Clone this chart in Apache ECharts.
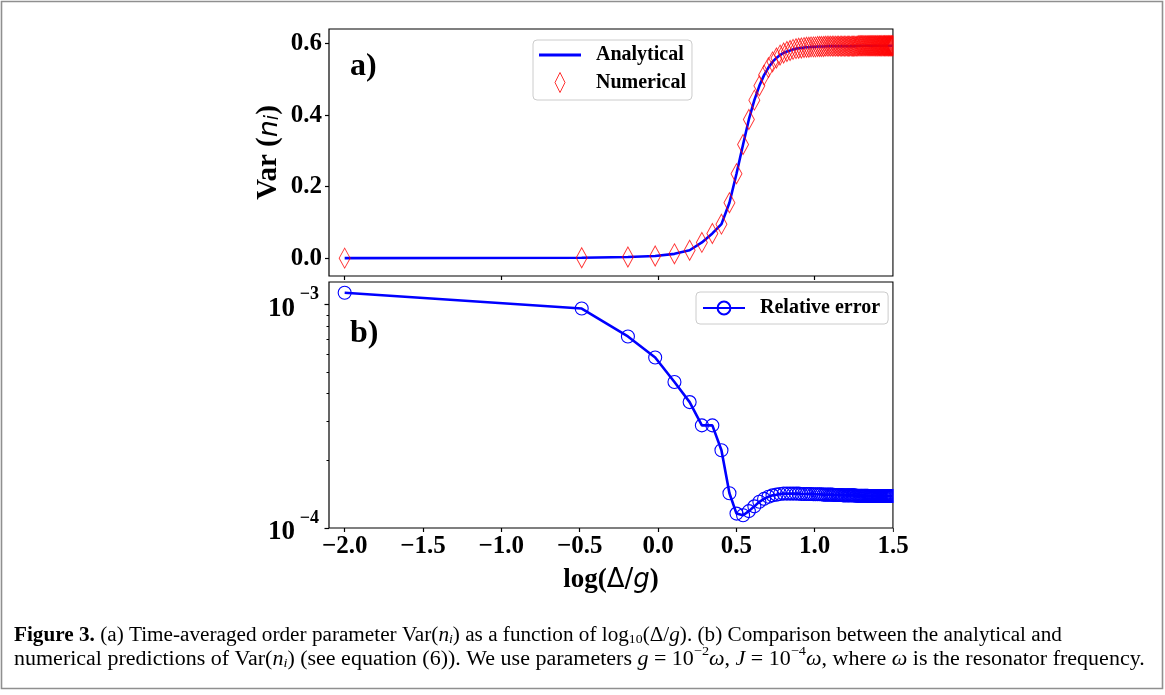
<!DOCTYPE html>
<html><head><meta charset="utf-8">
<script src="https://cdn.jsdelivr.net/npm/echarts@6/dist/echarts.min.js"></script>
<style>html,body{margin:0;padding:0;background:#fff}#c{width:1165px;height:695px}</style>
</head><body><div id="c"></div>
<script>
// log10(Delta/g) sample positions
const xValues = [
  -2.000,-0.487,-0.192,-0.018,0.105,0.202,0.280,0.347,0.405,0.456,
  0.501,0.543,0.580,0.615,0.647,0.677,0.705,0.731,0.756,0.779,
  0.802,0.823,0.843,0.862,0.881,0.898,0.915,0.932,0.948,0.963,
  0.977,0.992,1.005,1.019,1.032,1.044,1.057,1.068,1.080,1.091,
  1.102,1.113,1.123,1.134,1.144,1.153,1.163,1.172,1.181,1.190,
  1.199,1.208,1.216,1.224,1.233,1.241,1.248,1.256,1.264,1.271,
  1.278,1.285,1.293,1.299,1.306,1.313,1.320,1.326,1.333,1.339,
  1.345,1.351,1.357,1.363,1.369,1.375,1.381,1.387,1.392,1.398,
  1.403,1.409,1.414,1.419,1.424,1.429,1.435,1.440,1.445,1.449,
  1.454,1.459,1.464,1.469,1.473,1.478,1.482,1.487,1.491,1.496,1.500
];
const analytical = [
  0.000,0.001,0.003,0.006,0.012,0.022,0.044,0.069,0.095,0.155,
  0.236,0.318,0.388,0.442,0.482,0.512,0.533,0.549,0.560,0.568,
  0.574,0.578,0.581,0.584,0.586,0.587,0.588,0.589,0.590,0.590,
  0.591,0.591,0.591,0.592,0.592,0.592,0.592,0.593,0.593,0.593,
  0.593,0.593,0.593,0.593,0.593,0.593,0.593,0.593,0.593,0.593,
  0.593,0.593,0.593,0.593,0.593,0.593,0.593,0.593,0.593,0.593,
  0.594,0.594,0.594,0.594,0.594,0.594,0.594,0.594,0.594,0.594,
  0.594,0.594,0.594,0.594,0.594,0.594,0.594,0.594,0.594,0.594,
  0.594,0.594,0.594,0.594,0.594,0.594,0.594,0.594,0.594,0.594,
  0.594,0.594,0.594,0.594,0.594,0.594,0.594,0.594,0.594,0.594,0.594
];
const numerical = [
  0.000,0.001,0.003,0.006,0.012,0.022,0.044,0.069,0.095,0.155,
  0.236,0.318,0.388,0.442,0.482,0.512,0.533,0.549,0.560,0.568,
  0.574,0.578,0.581,0.584,0.586,0.587,0.588,0.589,0.590,0.590,
  0.591,0.591,0.591,0.592,0.592,0.592,0.592,0.593,0.593,0.593,
  0.593,0.593,0.593,0.593,0.593,0.593,0.593,0.593,0.593,0.593,
  0.593,0.593,0.593,0.593,0.593,0.593,0.593,0.593,0.593,0.593,
  0.594,0.594,0.594,0.594,0.594,0.594,0.594,0.594,0.594,0.594,
  0.594,0.594,0.594,0.594,0.594,0.594,0.594,0.594,0.594,0.594,
  0.594,0.594,0.594,0.594,0.594,0.594,0.594,0.594,0.594,0.594,
  0.594,0.594,0.594,0.594,0.594,0.594,0.594,0.594,0.594,0.594,0.594
];
const relativeError = [
  1.13e-3,9.6e-4,7.2e-4,5.8e-4,4.5e-4,3.66e-4,2.88e-4,2.88e-4,2.23e-4,1.43e-4,
  1.16e-4,1.14e-4,1.19e-4,1.25e-4,1.31e-4,1.35e-4,1.38e-4,1.40e-4,1.41e-4,1.42e-4,
  1.425e-4,1.425e-4,1.425e-4,1.425e-4,1.425e-4,1.425e-4,1.42e-4,1.42e-4,1.42e-4,1.42e-4,
  1.42e-4,1.415e-4,1.415e-4,1.415e-4,1.415e-4,1.415e-4,1.41e-4,1.41e-4,1.41e-4,1.41e-4,
  1.41e-4,1.41e-4,1.405e-4,1.405e-4,1.405e-4,1.405e-4,1.405e-4,1.405e-4,1.40e-4,1.40e-4,
  1.40e-4,1.40e-4,1.40e-4,1.40e-4,1.40e-4,1.40e-4,1.40e-4,1.40e-4,1.395e-4,1.395e-4,
  1.395e-4,1.395e-4,1.395e-4,1.395e-4,1.395e-4,1.395e-4,1.395e-4,1.395e-4,1.395e-4,1.395e-4,
  1.39e-4,1.39e-4,1.39e-4,1.39e-4,1.39e-4,1.39e-4,1.39e-4,1.39e-4,1.39e-4,1.39e-4,
  1.39e-4,1.39e-4,1.39e-4,1.39e-4,1.39e-4,1.39e-4,1.39e-4,1.39e-4,1.39e-4,1.39e-4,
  1.39e-4,1.39e-4,1.39e-4,1.39e-4,1.39e-4,1.39e-4,1.39e-4,1.39e-4,1.39e-4,1.39e-4,1.39e-4
];
const topXTicks = [-2, -1, 0, 1];
const bottomXTicks = [-2, -1.5, -1, -0.5, 0, 0.5, 1, 1.5];
const topYTicks = [0, 0.2, 0.4, 0.6];
const logMajorTicks = [1e-4, 1e-3];
const logMinorTicks = [2e-4, 3e-4, 4e-4, 5e-4, 6e-4, 7e-4, 8e-4, 9e-4];

const zip = (xs, ys) => xs.map((x, i) => [x, ys[i]]);
const serif = '"Liberation Serif","Times New Roman",serif';
const sans = '"DejaVu Sans",sans-serif';
const tickStyle = { color: '#000', width: 1.2 };
const noLine = { show: false, onZero: false };
const chart = echarts.init(document.getElementById('c'), null, { renderer: 'canvas' });

const capR = { fontFamily: serif, fontSize: 20, color: '#231f20', lineHeight: 22, verticalAlign: 'bottom' };
const captionRich = {
  fb: Object.assign({}, capR, { fontWeight: 'bold' }),
  r: capR,
  it: Object.assign({}, capR, { fontStyle: 'italic' }),
  sub: Object.assign({}, capR, { fontSize: 13, lineHeight: 12, padding: [11, 0, 0, 0] }),
  subi: Object.assign({}, capR, { fontSize: 13, lineHeight: 12, padding: [11, 0, 0, 0], fontStyle: 'italic' }),
  sup: Object.assign({}, capR, { fontSize: 13, lineHeight: 12, padding: [0, 0, 12, 0] }),
  lk: Object.assign({}, capR, { color: '#1d7ab8' })
};

const option = {
  animation: false,
  backgroundColor: '#fff',
  grid: [
    { left: 329, top: 29, width: 564, height: 247, show: true, borderColor: '#000', borderWidth: 1.2 },
    { left: 329, top: 282, width: 564, height: 246, show: true, borderColor: '#000', borderWidth: 1.2 }
  ],
  xAxis: [
    {
      gridIndex: 0, type: 'value', min: -2.1, max: 1.5, position: 'bottom',
      axisLine: noLine, splitLine: { show: false },
      axisTick: { show: true, length: 4, lineStyle: tickStyle, customValues: topXTicks },
      axisLabel: { show: false }
    },
    {
      gridIndex: 1, type: 'value', min: -2.1, max: 1.5, position: 'bottom',
      axisLine: noLine, splitLine: { show: false },
      axisTick: { show: true, length: 4, lineStyle: tickStyle, customValues: bottomXTicks },
      axisLabel: {
        customValues: bottomXTicks, margin: 6,
        fontFamily: serif, fontWeight: 'bold', fontSize: 25, color: '#000',
        formatter: v => v.toFixed(1).replace('-', '\u2212')
      },
      name: '{b|log(}{m|\u0394/}{i|g}{b|)}', nameLocation: 'middle', nameGap: 39,
      nameTextStyle: {
        rich: {
          b: { fontFamily: serif, fontWeight: 'bold', fontSize: 27, color: '#000' },
          m: { fontFamily: sans, fontSize: 26, color: '#000' },
          i: { fontFamily: sans, fontStyle: 'italic', fontSize: 26, color: '#000' }
        }
      }
    }
  ],
  yAxis: [
    {
      gridIndex: 0, type: 'value', min: -0.05, max: 0.641, position: 'left',
      axisLine: noLine, splitLine: { show: false },
      axisTick: { show: true, length: 4, lineStyle: tickStyle, customValues: topYTicks },
      axisLabel: {
        customValues: topYTicks, margin: 7,
        fontFamily: serif, fontWeight: 'bold', fontSize: 25, color: '#000',
        formatter: v => v.toFixed(1)
      },
      name: '{b|Var (}{i|n}{s|i}{b|)}', nameLocation: 'middle', nameGap: 46, nameRotate: 90,
      nameTextStyle: {
        rich: {
          b: { fontFamily: serif, fontWeight: 'bold', fontSize: 29, color: '#000', lineHeight: 30, verticalAlign: 'bottom' },
          i: { fontFamily: sans, fontStyle: 'italic', fontSize: 27, color: '#000', lineHeight: 30, verticalAlign: 'bottom' },
          s: { fontFamily: sans, fontStyle: 'italic', fontSize: 19, color: '#000', lineHeight: 19, padding: [14, 0, 0, 0], verticalAlign: 'bottom' }
        }
      }
    },
    {
      gridIndex: 1, type: 'log', logBase: 10, min: 1e-4, max: 1.262e-3, position: 'left', offset: 0,
      axisLine: noLine, splitLine: { show: false },
      axisTick: { show: true, length: 4.5, lineStyle: tickStyle, customValues: logMajorTicks },
      axisLabel: {
        customValues: logMajorTicks, margin: 10, align: 'right',
        formatter: v => '{s|\u2212' + Math.round(-Math.log10(v)) + '}\n{b|10}',
        rich: {
          s: { fontFamily: serif, fontWeight: 'bold', fontSize: 18, color: '#000', lineHeight: 9, align: 'right' },
          b: { fontFamily: serif, fontWeight: 'bold', fontSize: 27, color: '#000', lineHeight: 20, align: 'right', padding: [0, 24, 0, 0] }
        }
      }
    },
    {
      gridIndex: 1, type: 'log', logBase: 10, min: 1e-4, max: 1.262e-3, position: 'left', offset: 0,
      axisLine: noLine, splitLine: { show: false },
      axisTick: { show: true, length: 2.5, lineStyle: { color: '#000', width: 1 }, customValues: logMinorTicks },
      axisLabel: { show: false }
    }
  ],
  legend: [
    {
      data: [
        { name: 'Analytical', icon: 'path://M0,0H42V3H0Z', itemStyle: { color: '#0000ff', borderWidth: 0 } },
        { name: 'Numerical', icon: 'path://M5,0L10,10L5,20L0,10Z',
          itemStyle: { color: 'rgba(0,0,0,0)', borderColor: '#ff0000', borderWidth: 1 } }
      ],
      orient: 'vertical', left: 533, top: 40, itemWidth: 42, itemHeight: 20, itemGap: 7,
      padding: [5, 6, 7, 6], backgroundColor: 'rgba(255,255,255,0.8)', borderColor: '#cccccc',
      borderWidth: 1, borderRadius: 4, selectedMode: false,
      textStyle: { fontFamily: serif, fontWeight: 'bold', fontSize: 20, color: '#000', padding: [0, 0, 0, 10] }
    },
    {
      data: [{ name: 'Relative error' }],
      left: 696, top: 292, itemWidth: 42, itemHeight: 16,
      padding: [6, 8, 6, 6], backgroundColor: 'rgba(255,255,255,0.8)', borderColor: '#cccccc',
      borderWidth: 1, borderRadius: 4, selectedMode: false,
      textStyle: { fontFamily: serif, fontWeight: 'bold', fontSize: 20, color: '#000', padding: [0, 0, 0, 10] }
    }
  ],
  series: [
    {
      name: 'Analytical', type: 'line', xAxisIndex: 0, yAxisIndex: 0,
      data: zip(xValues, analytical), symbol: 'none',
      lineStyle: { color: '#0000ff', width: 2.6 }, itemStyle: { color: '#0000ff' }, z: 2
    },
    {
      name: 'Numerical', type: 'scatter', xAxisIndex: 0, yAxisIndex: 0,
      data: zip(xValues, numerical), symbol: 'diamond', symbolSize: [11, 20],
      itemStyle: { color: 'rgba(0,0,0,0)', borderColor: '#ff0000', borderWidth: 1 }, z: 3
    },
    {
      name: 'Relative error', type: 'line', xAxisIndex: 1, yAxisIndex: 1,
      data: zip(xValues, relativeError), symbol: 'circle', symbolSize: 13, showAllSymbol: true,
      lineStyle: { color: '#0000ff', width: 2.6 },
      itemStyle: { color: 'rgba(0,0,0,0)', borderColor: '#0000ff', borderWidth: 1.1 }, z: 2
    }
  ],
  graphic: [
    // white mask so markers are cut at the right spine, as in the original
    { type: 'rect', silent: true, z: 50, shape: { x: 893.8, y: 20, width: 20, height: 515 },
      style: { fill: '#fff' } },
    { type: 'rect', silent: true, z: 51, shape: { x: 1.5, y: 1.5, width: 1161, height: 687 },
      style: { fill: 'none', stroke: '#8f8f8f', lineWidth: 1.6 } },
    { type: 'text', x: 350, y: 67, silent: true,
      style: { text: 'a)', font: 'bold 32px "Liberation Serif"', fill: '#000', verticalAlign: 'middle' } },
    { type: 'text', x: 350, y: 334, silent: true,
      style: { text: 'b)', font: 'bold 32px "Liberation Serif"', fill: '#000', verticalAlign: 'middle' } },
    { type: 'text', x: 14, y: 635, scaleX: 1.06, silent: true,
      style: {
        text: '{fb|Figure 3.}{r| (a) Time-averaged order parameter Var(}{it|n}{subi|i}{r|) as a function of log}{sub|10}{r|(\u0394/}{it|g}{r|). (b) Comparison between the analytical and}',
        rich: captionRich, verticalAlign: 'middle'
      } },
    { type: 'text', x: 14, y: 659, scaleX: 1.1, silent: true,
      style: {
        text: '{r|numerical predictions of Var(}{it|n}{subi|i}{r|) (see equation (}{lk|6}{r|)). We use parameters }{it|g}{r| = 10}{sup|\u22122}{it|\u03c9}{r|, }{it|J}{r| = 10}{sup|\u22124}{it|\u03c9}{r|, where }{it|\u03c9}{r| is the resonator frequency.}',
        rich: captionRich, verticalAlign: 'middle'
      } }
  ]
};
chart.setOption(option);
</script>
</body></html>
